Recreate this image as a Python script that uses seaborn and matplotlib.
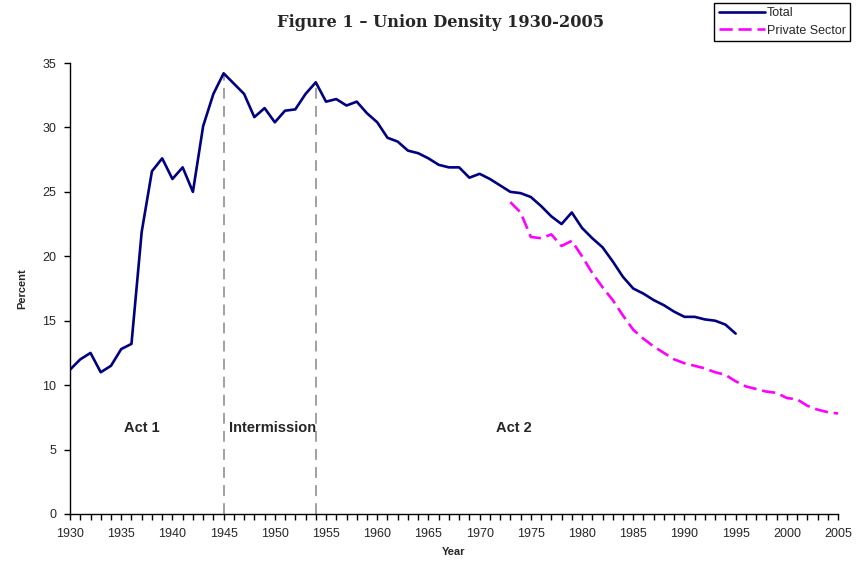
import pandas as pd
import numpy as np
import matplotlib
matplotlib.use("Agg")
import matplotlib.pyplot as plt
import seaborn as sns

# Data

total_years = list(range(1930, 1996))
total_pct = [
    11.2, 12.0, 12.5, 11.0, 11.5, 12.8, 13.2, 21.9, 26.6, 27.6,
    26.0, 26.9, 25.0, 30.1, 32.6, 34.2, 33.4, 32.6, 30.8, 31.5,
    30.4, 31.3, 31.4, 32.6, 33.5, 32.0, 32.2, 31.7, 32.0, 31.1,
    30.4, 29.2, 28.9, 28.2, 28.0, 27.6, 27.1, 26.9, 26.9, 26.1,
    26.4, 26.0, 25.5, 25.0, 24.9, 24.6, 23.9, 23.1, 22.5, 23.4,
    22.2, 21.4, 20.7, 19.6, 18.4, 17.5, 17.1, 16.6, 16.2, 15.7,
    15.3, 15.3, 15.1, 15.0, 14.7, 14.0,
]

private_years = list(range(1973, 2006))
private_pct = [
    24.2, 23.4, 21.5, 21.4, 21.7, 20.8, 21.2, 20.0, 18.7, 17.6,
    16.6, 15.4, 14.3, 13.6, 13.0, 12.5, 12.0, 11.7, 11.5, 11.3,
    11.0, 10.8, 10.3, 9.9, 9.7, 9.5, 9.4, 9.0, 8.9, 8.4,
    8.1, 7.9, 7.8,
]

divider_years = [1945, 1954]
act_labels = ["Act 1", "Intermission", "Act 2"]
act_x = [1937, 1949.8, 1973.3]

df = pd.concat([
    pd.DataFrame({"Year": total_years, "Percent": total_pct, "Series": "Total"}),
    pd.DataFrame({"Year": private_years, "Percent": private_pct, "Series": "Private Sector"}),
])

# Plot

sns.set_style("ticks")
plt.rcParams["font.family"] = ["Liberation Sans", "DejaVu Sans"]

fig = plt.figure(figsize=(8.56, 5.61), dpi=100)
ax = fig.add_axes([0.0818, 0.0838, 0.8972, 0.8039])

sns.lineplot(
    data=df, x="Year", y="Percent", hue="Series", style="Series",
    palette={"Total": "#000080", "Private Sector": "#FF00FF"},
    dashes={"Total": "", "Private Sector": (5, 2.2)},
    linewidth=1.9, ax=ax, legend=False,
)

# Act dividers
for yr in divider_years:
    top = total_pct[total_years.index(yr)]
    ax.plot([yr, yr], [0, top], color="#999999", lw=1.3, dashes=(6, 4), zorder=1)

for lab, x in zip(act_labels, act_x):
    ax.text(x, 6.7, lab, ha="center", va="center", fontsize=10.5, fontweight="bold")

ax.set_xlim(1930, 2005)
ax.set_ylim(0, 35)
ax.set_xticks(range(1930, 2006, 5))
ax.set_xticks(range(1930, 2006), minor=True)
ax.set_yticks(range(0, 36, 5))
ax.tick_params(axis="both", which="both", direction="out", length=4, width=1,
               color="black", labelsize=9, pad=6)
ax.tick_params(axis="x", which="minor", length=4)

for side in ["top", "right"]:
    ax.spines[side].set_visible(False)
for side in ["left", "bottom"]:
    ax.spines[side].set_color("black")
    ax.spines[side].set_linewidth(1)

ax.set_xlabel("Year", fontsize=8, fontweight="bold", labelpad=5)
ax.set_ylabel("Percent", fontsize=8, fontweight="bold", labelpad=11)

fig.text(0.515, 0.96, "Figure 1 \u2013 Union Density 1930-2005", ha="center", va="center",
         fontsize=11.7, fontweight="bold", family="DejaVu Serif")

handles = [
    plt.Line2D([], [], color="#000080", lw=1.9),
    plt.Line2D([], [], color="#FF00FF", lw=1.9, dashes=(5, 2.2)),
]
leg = fig.legend(handles, ["Total", "Private Sector"], loc="upper right",
                 bbox_to_anchor=(0.993, 0.995), fontsize=9, frameon=True,
                 fancybox=False, edgecolor="black", framealpha=1,
                 handlelength=3.7, handletextpad=0.15, borderpad=0.35,
                 labelspacing=0.45, borderaxespad=0)
leg.get_frame().set_linewidth(1)

plt.savefig("out.png", dpi=100)
